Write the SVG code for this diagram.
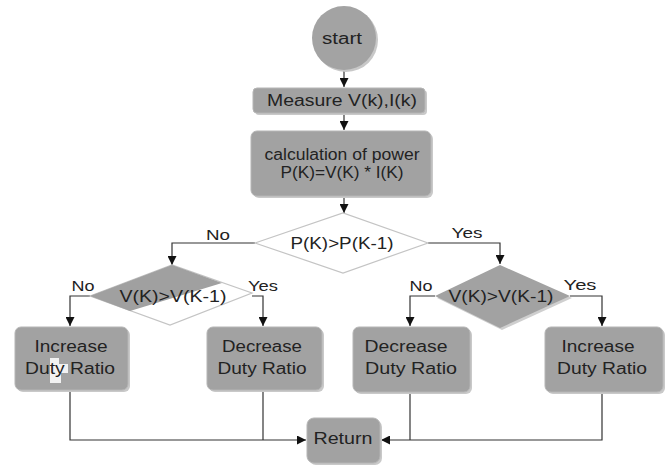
<svg xmlns="http://www.w3.org/2000/svg" width="667" height="471" viewBox="0 0 667 471">
<defs>
<marker id="arr" viewBox="0 0 10 10" refX="10" refY="5" markerWidth="9" markerHeight="9" markerUnits="userSpaceOnUse" orient="auto">
<path d="M0,0 L10,5 L0,10 z" fill="#111"/>
</marker>
</defs>
<style>
.box{fill:#a2a2a2;stroke:#b5b5b5;stroke-width:1}
.shadow{fill:#c9c9c9}
.t{font-family:"Liberation Sans",Arial,sans-serif;font-size:16px;fill:#222;text-anchor:middle}
.lbl{font-family:"Liberation Sans",Arial,sans-serif;font-size:15px;fill:#222;text-anchor:middle}
.c{fill:none;stroke:#333;stroke-width:1.2}
.dia{stroke:#c4c4c4;stroke-width:1.2}
</style>
<rect width="667" height="471" fill="#fff"/>

<g id="connectors">
<path class="c" d="M344,70 V87" marker-end="url(#arr)"/>
<path class="c" d="M344,113 V130" marker-end="url(#arr)"/>
<path class="c" d="M344,196 V213" marker-end="url(#arr)"/>
<path class="c" d="M255,243 H172 V265" marker-end="url(#arr)"/>
<path class="c" d="M428,243 H500 V264" marker-end="url(#arr)"/>
<path class="c" d="M90,296 H70 V326" marker-end="url(#arr)"/>
<path class="c" d="M252,296 H263 V326" marker-end="url(#arr)"/>
<path class="c" d="M435,296 H410 V326" marker-end="url(#arr)"/>
<path class="c" d="M570,296 H602 V326" marker-end="url(#arr)"/>
<path class="c" d="M70,390 V440 H306" marker-end="url(#arr)"/>
<path class="c" d="M263,390 V440"/>
<path class="c" d="M602,392 V440 H381" marker-end="url(#arr)"/>
<path class="c" d="M410,392 V440"/>
<text class="lbl" x="218" y="240" textLength="24" lengthAdjust="spacingAndGlyphs">No</text>
<text class="lbl" x="467" y="238" textLength="31" lengthAdjust="spacingAndGlyphs">Yes</text>
<text class="lbl" x="83" y="291" textLength="23" lengthAdjust="spacingAndGlyphs">No</text>
<text class="lbl" x="263" y="291" textLength="30" lengthAdjust="spacingAndGlyphs">Yes</text>
<text class="lbl" x="421" y="291" textLength="23" lengthAdjust="spacingAndGlyphs">No</text>
<text class="lbl" x="580" y="290" textLength="33" lengthAdjust="spacingAndGlyphs">Yes</text>
</g>

<g id="start">
<circle cx="346" cy="40" r="32" fill="#c8c8c8"/>
<circle cx="344" cy="38" r="32" fill="#a3a3a3"/>
<text class="t" x="342" y="44" textLength="40" lengthAdjust="spacingAndGlyphs">start</text>
</g>

<g id="measure">
<rect class="shadow" x="255" y="90" width="172" height="25" rx="4"/>
<rect class="box" x="253" y="88" width="172" height="25" rx="4"/>
<text class="t" x="342" y="106" textLength="150" lengthAdjust="spacingAndGlyphs">Measure V(k),I(k)</text>
</g>

<g id="calc">
<rect class="shadow" x="253" y="133" width="180" height="65" rx="6"/>
<rect class="box" x="251" y="131" width="180" height="65" rx="6"/>
<text class="t" x="342" y="160" textLength="155" lengthAdjust="spacingAndGlyphs">calculation of power</text>
<text class="t" x="342" y="178" textLength="123" lengthAdjust="spacingAndGlyphs">P(K)=V(K) * I(K)</text>
</g>

<g id="cmpP">
<polygon class="dia" points="255,243 343,213 428,243 343,273" fill="#fff"/>
<text class="t" x="342" y="249" textLength="103" lengthAdjust="spacingAndGlyphs">P(K)&gt;P(K-1)</text>
</g>

<g id="cmpVleft">
<polygon class="dia" points="90,296 172,265 252,293 170,325" fill="#fff"/>
<polygon points="90,296 172,265 222,283 130,311" fill="#a0a0a0"/>
<text class="t" x="173" y="302" textLength="107" lengthAdjust="spacingAndGlyphs">V(K)&gt;V(K-1)</text>
</g>

<g id="cmpVright">
<polygon points="437,298 502,267 572,298 502,330" fill="#cfcfcf"/>
<polygon points="435,296 500,265 570,296 500,328" fill="#a2a2a2"/>
<text class="t" x="501" y="302" textLength="105" lengthAdjust="spacingAndGlyphs">V(K)&gt;V(K-1)</text>
</g>

<g id="inc1">
<rect class="shadow" x="17" y="329" width="113" height="63" rx="6"/>
<rect class="box" x="15" y="327" width="113" height="63" rx="6"/>
<polygon points="50,358 59,358 59,364 68,364 68,373 61,373 61,383 50,383" fill="#f2f2f2"/>
<text class="t" x="71" y="352" textLength="73" lengthAdjust="spacingAndGlyphs">Increase</text>
<text class="t" x="70" y="374" textLength="90" lengthAdjust="spacingAndGlyphs">Duty Ratio</text>
</g>

<g id="dec1">
<rect class="shadow" x="209" y="329" width="115" height="63" rx="6"/>
<rect class="box" x="207" y="327" width="115" height="63" rx="6"/>
<text class="t" x="262" y="352" textLength="80" lengthAdjust="spacingAndGlyphs">Decrease</text>
<text class="t" x="262" y="374" textLength="89" lengthAdjust="spacingAndGlyphs">Duty Ratio</text>
</g>

<g id="dec2">
<rect class="shadow" x="355" y="329" width="117" height="65" rx="6"/>
<rect class="box" x="353" y="327" width="117" height="65" rx="6"/>
<text class="t" x="406" y="352" textLength="83" lengthAdjust="spacingAndGlyphs">Decrease</text>
<text class="t" x="411" y="374" textLength="92" lengthAdjust="spacingAndGlyphs">Duty Ratio</text>
</g>

<g id="inc2">
<rect class="shadow" x="547" y="329" width="118" height="65" rx="6"/>
<rect class="box" x="545" y="327" width="118" height="65" rx="6"/>
<text class="t" x="598" y="352" textLength="73" lengthAdjust="spacingAndGlyphs">Increase</text>
<text class="t" x="602" y="374" textLength="90" lengthAdjust="spacingAndGlyphs">Duty Ratio</text>
</g>

<g id="return">
<rect class="shadow" x="309" y="420" width="73" height="45" rx="7"/>
<rect class="box" x="307" y="418" width="73" height="45" rx="7"/>
<text class="t" x="343" y="444" textLength="59" lengthAdjust="spacingAndGlyphs">Return</text>
</g>
</svg>
